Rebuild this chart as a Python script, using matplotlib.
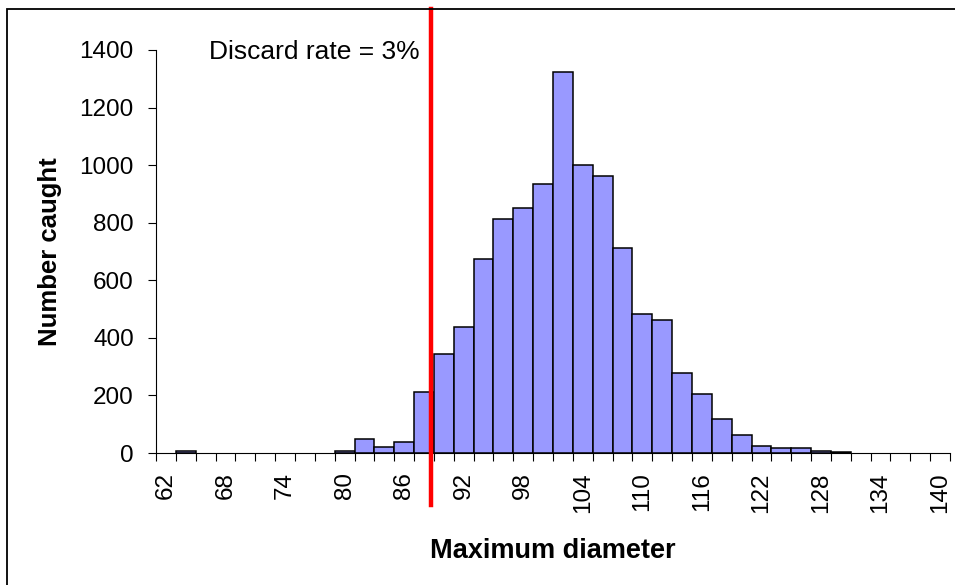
import numpy as np
import matplotlib
matplotlib.use('Agg')
import matplotlib.pyplot as plt
from matplotlib.patches import Rectangle

plt.rcParams['font.family'] = ['Liberation Sans', 'DejaVu Sans']

# size classes (bin centres, width 2) and counts
diameter = np.arange(62, 142, 2)
caught = [0, 6, 0, 0, 0, 0, 0, 0, 0, 6,
          50, 22, 38, 212, 344, 439, 673, 813, 850, 933,
          1324, 1000, 961, 712, 483, 461, 277, 205, 117, 61,
          23, 17, 17, 7, 5, 0, 0, 0, 0, 0]
tick_labels = [str(v) for v in range(62, 141, 6)]
discard_size = 88.7
discard_text = 'Discard rate = 3%'

caught = np.array(caught)
fig = plt.figure(figsize=(9.55, 5.85), dpi=100)
ax = fig.add_axes([156 / 955, 132 / 585, 794 / 955, 403 / 585])

nz = caught > 0
ax.bar(diameter[nz], caught[nz], width=2, color='#9999ff', edgecolor='black', linewidth=1.1, zorder=2)

ax.set_xlim(61, 141)
ax.set_ylim(0, 1400)
ax.set_yticks(range(0, 1401, 200))

# tick marks on bin edges, labels on every third bin centre
ax.set_xticks(np.arange(61, 142, 2))
ax.set_xticklabels([])
ax.set_xticks(np.arange(62, 141, 6), minor=True)
ax.set_xticklabels(tick_labels, minor=True, rotation=90)
ax.tick_params(axis='x', which='major', direction='out', length=6, width=0.8)
ax.tick_params(axis='x', which='minor', length=0, pad=14, labelsize=17.5)
ax.tick_params(axis='y', direction='out', length=6, width=0.8, pad=10, labelsize=17.5)

for s in ['top', 'right']:
    ax.spines[s].set_visible(False)
for s in ['left', 'bottom']:
    ax.spines[s].set_linewidth(0.8)

ax.set_ylabel('Number caught', fontsize=18.5, fontweight='bold')
ax.yaxis.set_label_coords(-94 / 794, 0.5)
ax.set_xlabel('Maximum diameter', fontsize=19.5, fontweight='bold')
ax.xaxis.set_label_coords(0.5, -85 / 403)

# discard line runs beyond the plot area
ax.plot([discard_size, discard_size], [-181, 1542], color='red', linewidth=3.2, clip_on=False, zorder=3)
ax.text(87.6, 1393, discard_text, ha='right', va='center', fontsize=19)

# chart border
fig.patches.append(Rectangle((7 / 955, -0.1), 1.2, 1.1 - 9 / 585, transform=fig.transFigure,
                             fill=False, edgecolor='black', linewidth=1.3))

fig.savefig('out.png', dpi=100)
